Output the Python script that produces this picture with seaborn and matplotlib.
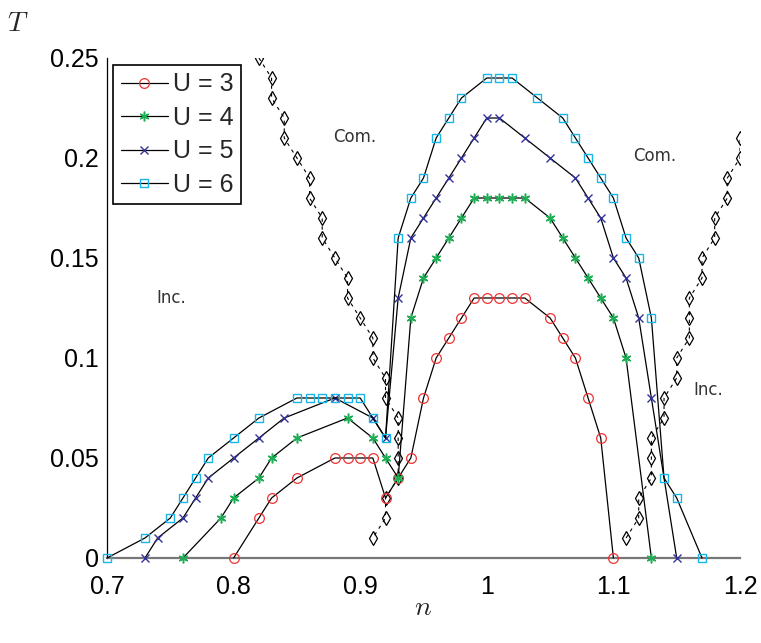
import numpy as np
import pandas as pd
import seaborn as sns
import matplotlib.pyplot as plt

# ---- data ----
n_u3 = [0.80, 0.82, 0.83, 0.85, 0.88, 0.89, 0.90, 0.91, 0.92, 0.93, 0.94, 0.95, 0.96, 0.97,
        0.98, 0.99, 1.00, 1.01, 1.02, 1.03, 1.05, 1.06, 1.07, 1.08, 1.09, 1.10]
T_u3 = [0.00, 0.02, 0.03, 0.04, 0.05, 0.05, 0.05, 0.05, 0.03, 0.04, 0.05, 0.08, 0.10, 0.11,
        0.12, 0.13, 0.13, 0.13, 0.13, 0.13, 0.12, 0.11, 0.10, 0.08, 0.06, 0.00]

n_u4 = [0.76, 0.79, 0.80, 0.82, 0.83, 0.85, 0.89, 0.91, 0.92, 0.93, 0.94, 0.95, 0.96, 0.97,
        0.98, 0.99, 1.00, 1.01, 1.02, 1.03, 1.05, 1.06, 1.07, 1.08, 1.09, 1.10, 1.11, 1.13]
T_u4 = [0.00, 0.02, 0.03, 0.04, 0.05, 0.06, 0.07, 0.06, 0.05, 0.04, 0.12, 0.14, 0.15, 0.16,
        0.17, 0.18, 0.18, 0.18, 0.18, 0.18, 0.17, 0.16, 0.15, 0.14, 0.13, 0.12, 0.10, 0.00]

n_u5 = [0.73, 0.74, 0.76, 0.77, 0.78, 0.80, 0.82, 0.84, 0.88, 0.91, 0.92, 0.93, 0.94, 0.95,
        0.96, 0.97, 0.98, 0.99, 1.00, 1.01, 1.03, 1.05, 1.07, 1.08, 1.09, 1.10, 1.11, 1.12,
        1.13, 1.15]
T_u5 = [0.00, 0.01, 0.02, 0.03, 0.04, 0.05, 0.06, 0.07, 0.08, 0.07, 0.06, 0.13, 0.16, 0.17,
        0.18, 0.19, 0.20, 0.21, 0.22, 0.22, 0.21, 0.20, 0.19, 0.18, 0.17, 0.15, 0.14, 0.12,
        0.08, 0.00]

n_u6 = [0.70, 0.73, 0.75, 0.76, 0.77, 0.78, 0.80, 0.82, 0.85, 0.86, 0.87, 0.88, 0.89, 0.90,
        0.91, 0.92, 0.93, 0.94, 0.95, 0.96, 0.97, 0.98, 1.00, 1.01, 1.02, 1.04, 1.06, 1.07,
        1.08, 1.09, 1.10, 1.11, 1.12, 1.13, 1.14, 1.15, 1.17]
T_u6 = [0.00, 0.01, 0.02, 0.03, 0.04, 0.05, 0.06, 0.07, 0.08, 0.08, 0.08, 0.08, 0.08, 0.08,
        0.07, 0.06, 0.16, 0.18, 0.19, 0.21, 0.22, 0.23, 0.24, 0.24, 0.24, 0.23, 0.22, 0.21,
        0.20, 0.19, 0.18, 0.16, 0.15, 0.12, 0.04, 0.03, 0.00]

# boundary curves (diamonds)
n_left = [0.82, 0.83, 0.83, 0.84, 0.84, 0.85, 0.86, 0.86, 0.87, 0.87, 0.88, 0.89, 0.89,
          0.90, 0.91, 0.91, 0.92, 0.92, 0.93, 0.93, 0.93, 0.93, 0.92, 0.92, 0.91]
T_left = [0.25, 0.24, 0.23, 0.22, 0.21, 0.20, 0.19, 0.18, 0.17, 0.16, 0.15, 0.14, 0.13,
          0.12, 0.11, 0.10, 0.09, 0.08, 0.07, 0.06, 0.05, 0.04, 0.03, 0.02, 0.01]
n_right = [1.11, 1.12, 1.12, 1.13, 1.13, 1.13, 1.14, 1.14, 1.15, 1.15, 1.16, 1.16, 1.16,
           1.17, 1.17, 1.18, 1.18, 1.19, 1.19, 1.20, 1.20]
T_right = [0.01, 0.02, 0.03, 0.04, 0.05, 0.06, 0.07, 0.08, 0.09, 0.10, 0.11, 0.12, 0.13,
           0.14, 0.15, 0.16, 0.17, 0.18, 0.19, 0.20, 0.21]

labels = ["U = 3", "U = 4", "U = 5", "U = 6"]
x_ticks = [0.7, 0.8, 0.9, 1.0, 1.1, 1.2]
x_ticklabels = ["0.7", "0.8", "0.9", "1", "1.1", "1.2"]
y_ticks = [0, 0.05, 0.1, 0.15, 0.2, 0.25]
y_ticklabels = ["0", "0.05", "0.1", "0.15", "0.2", "0.25"]

# ---- style ----
sns.set_style("white")
plt.rcParams['font.family'] = ['Liberation Sans', 'DejaVu Sans']
plt.rcParams['mathtext.fontset'] = 'cm'

fig, ax = plt.subplots(figsize=(7.61, 6.43), dpi=100)
fig.subplots_adjust(left=0.1406, right=0.9724, bottom=0.1322, top=0.9098)

# boundary curves
for nn, tt in [(n_left, T_left), (n_right, T_right)]:
    df = pd.DataFrame({"n": nn, "T": tt})
    sns.lineplot(data=df, x="n", y="T", sort=False, estimator=None, ax=ax,
                 color="black", linewidth=0.8, linestyle=(0, (3, 4)),
                 marker="d", markersize=7, markerfacecolor="none",
                 markeredgecolor="black", markeredgewidth=0.9, zorder=2)

asterisk = (6, 2, 0)
series = [(n_u3, T_u3, "o", "#ee3333", 7, 0.9),
          (n_u4, T_u4, asterisk, "#1fae55", 7, 1.1),
          (n_u5, T_u5, "x", "#333399", 5.5, 1.0),
          (n_u6, T_u6, "s", "#19b5ea", 6, 1.0)]
for (nn, tt, mk, col, ms, mew), lab in zip(series, labels):
    df = pd.DataFrame({"n": nn, "T": tt})
    sns.lineplot(data=df, x="n", y="T", sort=False, estimator=None, ax=ax,
                 color="black", linewidth=0.9, marker=mk, markersize=ms,
                 markerfacecolor="none" if mk in ("o", "s") else col,
                 markeredgecolor=col, markeredgewidth=mew, label=lab, zorder=3,
                 clip_on=False)

ax.set_xlim(0.7, 1.2)
ax.set_ylim(0, 0.25)
ax.set_xticks(x_ticks)
ax.set_xticklabels(x_ticklabels)
ax.set_yticks(y_ticks)
ax.set_yticklabels(y_ticklabels)
ax.tick_params(axis="both", direction="in", length=5, width=0.8, labelsize=18,
               color="black", labelcolor="black")
ax.tick_params(axis="x", pad=12)
ax.tick_params(axis="y", pad=6)

for side in ("top", "right"):
    ax.spines[side].set_visible(False)
ax.spines["left"].set_color("black")
ax.spines["left"].set_linewidth(0.9)
ax.spines["bottom"].set_color("#777777")
ax.spines["bottom"].set_linewidth(1.6)

ax.set_xlabel("$n$", fontsize=20)
ax.xaxis.set_label_coords(0.5, -0.10)
ax.xaxis.label.set_va("center")
ax.set_ylabel("")
fig.text(0.024, 0.962, "$T$", fontsize=20, ha="center", va="center")

for (x, y, s) in [(0.896, 0.2105, "Com."), (1.133, 0.201, "Com."),
                  (0.751, 0.13, "Inc."), (1.175, 0.084, "Inc.")]:
    ax.text(x, y, s, fontsize=12, color="#333333", family="DejaVu Sans",
            ha="center", va="center")

leg = ax.legend(loc="upper left", bbox_to_anchor=(0.0095, 0.986), fontsize=18,
                frameon=True, fancybox=False, edgecolor="black", framealpha=1,
                handlelength=1.9, handletextpad=0.2, borderpad=0.3,
                labelspacing=0.38, borderaxespad=0)
leg.get_frame().set_linewidth(1.2)

fig.savefig("out.png", dpi=100)
